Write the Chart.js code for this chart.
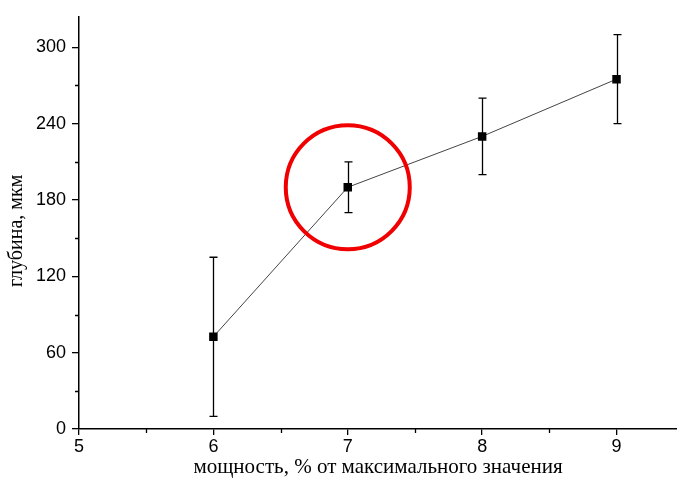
<!DOCTYPE html>
<html>
<head>
<meta charset="utf-8">
<script src="https://cdn.jsdelivr.net/npm/chart.js@4/dist/chart.umd.min.js"></script>
<style>
  html, body { margin: 0; padding: 0; background: #fff; }
  #wrap { width: 677px; height: 487px; }
</style>
</head>
<body>
<div id="wrap"><canvas id="c" width="677" height="487"></canvas></div>
<script>
// Measured depth versus laser power
const power = [6, 7, 8, 9];
const depth = [72.5, 190, 230, 275];
const errPlus = [62.5, 20, 30, 35];
const errMinus = [62.5, 20, 30, 35];

const xTicks = [5, 6, 7, 8, 9];
const yTicks = [0, 60, 120, 180, 240, 300];
const xMinorTicks = [5.5, 6.5, 7.5, 8.5];
const yMinorTicks = [30, 90, 150, 210, 270];

const highlightIndex = 1; // point circled in red
const xTitle = 'мощность, % от максимального значения';
const yTitle = 'глубина, мкм';

const tickFont = { family: "'Liberation Sans', Arial, sans-serif", size: 18 };
const titleFont = { family: "'Liberation Serif', 'Times New Roman', serif", size: 21 };

// Vertical error bars with caps, drawn beneath the markers
const errorBars = {
  id: 'errorBars',
  beforeDatasetsDraw(chart) {
    const { ctx, scales: { x, y } } = chart;
    ctx.save();
    ctx.strokeStyle = '#000';
    ctx.lineWidth = 1.3;
    power.forEach((p, i) => {
      const px = Math.round(x.getPixelForValue(p)) + 0.5;
      const top = y.getPixelForValue(depth[i] + errPlus[i]);
      const bot = y.getPixelForValue(depth[i] - errMinus[i]);
      ctx.beginPath();
      ctx.moveTo(px, top); ctx.lineTo(px, bot);
      ctx.moveTo(px - 4, top); ctx.lineTo(px + 4, top);
      ctx.moveTo(px - 4, bot); ctx.lineTo(px + 4, bot);
      ctx.stroke();
    });
    ctx.restore();
  }
};

// Short minor tick marks outside both axes, plus the vertical axis title
const axisExtras = {
  id: 'axisExtras',
  afterDraw(chart) {
    const { ctx, chartArea, scales: { x, y } } = chart;
    ctx.save();
    ctx.strokeStyle = '#000';
    ctx.lineWidth = 1.3;
    ctx.beginPath();
    xMinorTicks.forEach(v => {
      const px = Math.round(x.getPixelForValue(v)) + 0.5;
      ctx.moveTo(px, chartArea.bottom); ctx.lineTo(px, chartArea.bottom + 4);
    });
    yMinorTicks.forEach(v => {
      const py = Math.round(y.getPixelForValue(v)) + 0.5;
      ctx.moveTo(chartArea.left, py); ctx.lineTo(chartArea.left - 4, py);
    });
    ctx.stroke();

    ctx.translate(17, (chartArea.top + chartArea.bottom) / 2 + 8);
    ctx.rotate(-Math.PI / 2);
    ctx.fillStyle = '#000';
    ctx.font = "20px 'Liberation Serif', 'Times New Roman', serif";
    ctx.textAlign = 'center';
    ctx.textBaseline = 'middle';
    ctx.fillText(yTitle, 0, 0);
    ctx.restore();
  }
};

// Red ring around the highlighted point
const highlightRing = {
  id: 'highlightRing',
  afterDatasetsDraw(chart) {
    const { ctx, scales: { x, y } } = chart;
    const cx = x.getPixelForValue(power[highlightIndex]);
    const cy = y.getPixelForValue(depth[highlightIndex]);
    ctx.save();
    ctx.strokeStyle = '#f00000';
    ctx.lineWidth = 4;
    ctx.beginPath();
    ctx.arc(cx, cy, 62, 0, Math.PI * 2);
    ctx.stroke();
    ctx.restore();
  }
};

new Chart(document.getElementById('c'), {
  type: 'line',
  data: {
    datasets: [{
      data: power.map((p, i) => ({ x: p, y: depth[i] })),
      borderColor: '#444',
      borderWidth: 1,
      tension: 0,
      pointStyle: 'rect',
      pointRadius: 6,
      pointBackgroundColor: '#000',
      pointBorderWidth: 0
    }]
  },
  options: {
    responsive: false,
    animation: false,
    devicePixelRatio: 1,
    layout: { autoPadding: false, padding: { top: 13, right: 0, bottom: 0, left: 0 } },
    plugins: { legend: { display: false }, tooltip: { enabled: false } },
    scales: {
      x: {
        type: 'linear',
        min: 5,
        max: 9.45,
        afterBuildTicks: s => { s.ticks = xTicks.map(v => ({ value: v })); },
        afterFit: s => { s.height = 58; s.paddingLeft = 0; s.paddingRight = 0; },
        ticks: { font: tickFont, color: '#000', padding: 1, maxRotation: 0 },
        grid: { drawOnChartArea: false, drawTicks: true, tickLength: 6, color: '#000', lineWidth: 1.3 },
        border: { display: true, color: '#000', width: 1.5 },
        title: { display: true, text: xTitle, font: titleFont, color: '#000', padding: { top: 0, bottom: 7 } }
      },
      y: {
        type: 'linear',
        min: 0,
        max: 324,
        afterBuildTicks: s => { s.ticks = yTicks.map(v => ({ value: v })); },
        afterFit: s => { s.width = 79; },
        ticks: { font: tickFont, color: '#000', padding: 6 },
        grid: { drawOnChartArea: false, drawTicks: true, tickLength: 7, color: '#000', lineWidth: 1.3 },
        border: { display: true, color: '#000', width: 1.5 }
      }
    }
  },
  plugins: [errorBars, axisExtras, highlightRing]
});
</script>
</body>
</html>
